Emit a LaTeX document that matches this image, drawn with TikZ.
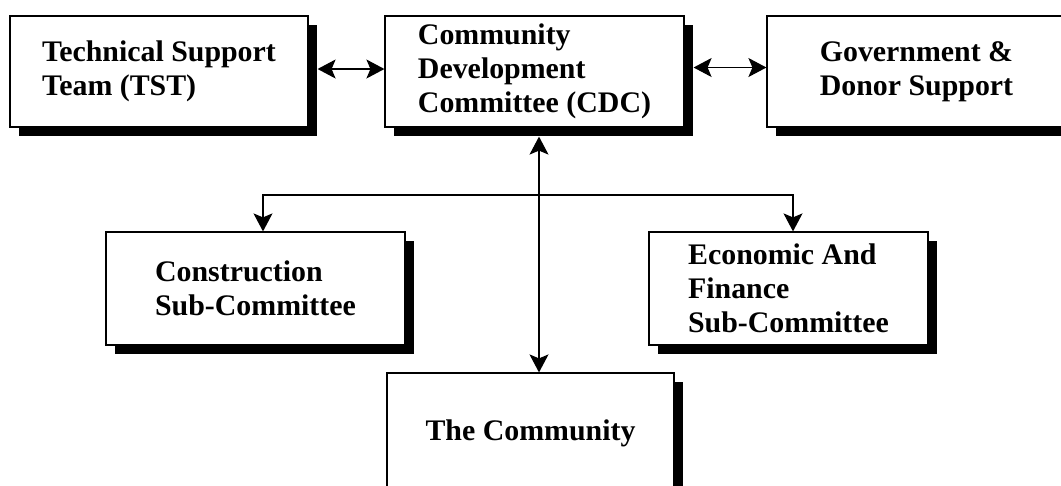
\documentclass[tikz,border=0pt]{standalone}
\usepackage{fontspec}
\setmainfont{Liberation Serif}
\usetikzlibrary{arrows.meta,shadows}
\begin{document}
\begin{tikzpicture}[
    x=0.02cm, y=-0.02cm,
    >={Stealth[length=3.6mm, width=3.8mm, inset=0.8mm]},
    unit/.style={draw, fill=white, line width=0.7pt, minimum height=2.22cm, inner sep=0pt, align=left,
        font=\fontsize{17}{19.5}\selectfont\bfseries,
        drop shadow={shadow xshift=0.18cm, shadow yshift=-0.18cm, fill=black, opacity=1}},
    link/.style={line width=0.7pt},
]
    \useasboundingbox (0,0) rectangle (1061,485);
    \clip (0,0) rectangle (1061,485);

    % Top row
    \node[unit, minimum width=5.96cm] (tst) at (159,71.5) {Technical Support\\Team (TST)};
    \node[unit, minimum width=5.98cm] (cdc) at (534.5,71.5) {Community\\Development\\Committee (CDC)};
    \node[unit, minimum width=5.98cm] (gov) at (916.5,71.5) {Government \&\\Donor Support};

    % Sub-committees and community
    \node[unit, minimum width=5.98cm, minimum height=2.26cm] (con) at (255.5,288.5) {Construction\\Sub-Committee};
    \node[unit, minimum width=5.58cm, minimum height=2.26cm] (eco) at (788.5,288.5) {Economic And\\Finance\\Sub-Committee};
    \node[unit, minimum width=5.74cm, minimum height=2.4cm] (com) at (530.5,433) {The Community};

    % Arrows
    \coordinate (hub) at (539,195);
    \draw[link, <->, shorten <=0.18cm] ([yshift=0.05cm]tst.east) -- ([yshift=0.05cm]cdc.west);
    \draw[link, <->, shorten <=0.18cm] ([yshift=0.08cm]cdc.east) -- ([yshift=0.08cm]gov.west);
    \draw[link, <->, shorten <=0.18cm] (hub |- cdc.south) -- (hub |- com.north);
    \draw[link, ->] (hub) -| ([xshift=0.15cm]con.north);
    \draw[link, ->] (hub) -| ([xshift=0.09cm]eco.north);
\end{tikzpicture}
\end{document}
